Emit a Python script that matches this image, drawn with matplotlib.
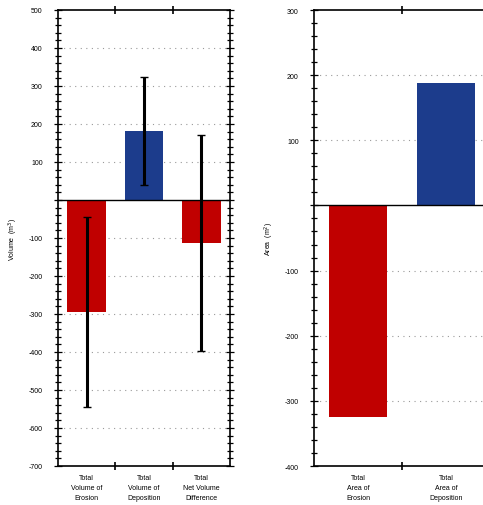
"""
plot.py

Erosion / deposition summary: volume change (with error bars) and area change
shown side by side as two bar panels.
"""

# Imports -------------------
import matplotlib
matplotlib.use("Agg")
import matplotlib.pyplot as plt
from matplotlib.ticker import MultipleLocator, FuncFormatter, FixedLocator
import numpy as np

# Data ----------------------
vol_labels = ["Total\nVolume of\nErosion", "Total\nVolume of\nDeposition",
              "Total\nNet Volume\nDifference"]
vol_values = [-296, 182, -113]
vol_errors = [250, 143, 285]

area_labels = ["Total\nArea of\nErosion", "Total\nArea of\nDeposition"]
area_values = [-325, 188]

RED = "#c00000"
BLUE = "#1c3c8c"

plt.rcParams["font.family"] = ["Liberation Sans", "DejaVu Sans"]


# Helpers -------------------
def _style_axis(ax, n, ylim, labels):
    """Shared look for both panels: minor y ticks, dotted grid, zero line."""
    ax.set_xlim(0.5, n + 0.5)
    ax.set_ylim(*ylim)
    ax.yaxis.set_major_locator(MultipleLocator(100))
    ax.yaxis.set_minor_locator(MultipleLocator(20))
    ax.yaxis.set_major_formatter(FuncFormatter(lambda v, p: "" if v == 0 else f"{v:.0f}"))
    ax.tick_params(axis="y", which="both", direction="inout", left=True, right=True,
                   labelsize=5, pad=8, width=0.9)
    ax.tick_params(axis="y", which="major", length=6)
    ax.tick_params(axis="y", which="minor", length=4)

    # category boundaries get the ticks, centres get the labels
    ax.xaxis.set_major_locator(FixedLocator(np.arange(1.5, n, 1.0)))
    ax.xaxis.set_minor_locator(FixedLocator(np.arange(1, n + 1)))
    ax.set_xticklabels([], minor=False)
    ax.set_xticklabels(labels, minor=True, fontsize=5, linespacing=1.55)
    ax.tick_params(axis="x", which="major", direction="inout", top=True, bottom=True,
                   length=6, width=1.2)
    ax.tick_params(axis="x", which="minor", length=0, pad=6)

    for v in ax.get_yticks():
        if ylim[0] < v < ylim[1] and v != 0:
            ax.axhline(v, color="#9a9a9a", lw=0.8, ls=(0, (1, 4)), zorder=0)
    ax.axhline(0, color="black", lw=1.0, zorder=3)
    for s in ax.spines.values():
        s.set_linewidth(1.2)


# Figure --------------------
fig = plt.figure(figsize=(4.83, 5.06), dpi=100)
W, H = 483, 506

ax1 = fig.add_axes([58 / W, (H - 467) / H, 172 / W, 456 / H])
x1 = np.arange(1, len(vol_values) + 1)
ax1.bar(x1, vol_values, width=0.67, color=[RED, BLUE, RED], zorder=2)
ax1.errorbar(x1, vol_values, yerr=vol_errors, fmt="none", ecolor="black",
             elinewidth=2.2, capsize=3, capthick=1, zorder=4)
_style_axis(ax1, len(vol_values), (-700, 500), vol_labels)
ax1.set_ylabel("Volume  (m$^3$)", fontsize=5, labelpad=6)

ax2 = fig.add_axes([314 / W, (H - 467) / H, 176 / W, 456 / H])
x2 = np.arange(1, len(area_values) + 1)
ax2.bar(x2, area_values, width=0.66, color=[RED, BLUE], zorder=2)
_style_axis(ax2, len(area_values), (-400, 300), area_labels)
ax2.set_ylabel("Area  (m$^2$)", fontsize=5, labelpad=6)

fig.savefig("out.png", dpi=100)
